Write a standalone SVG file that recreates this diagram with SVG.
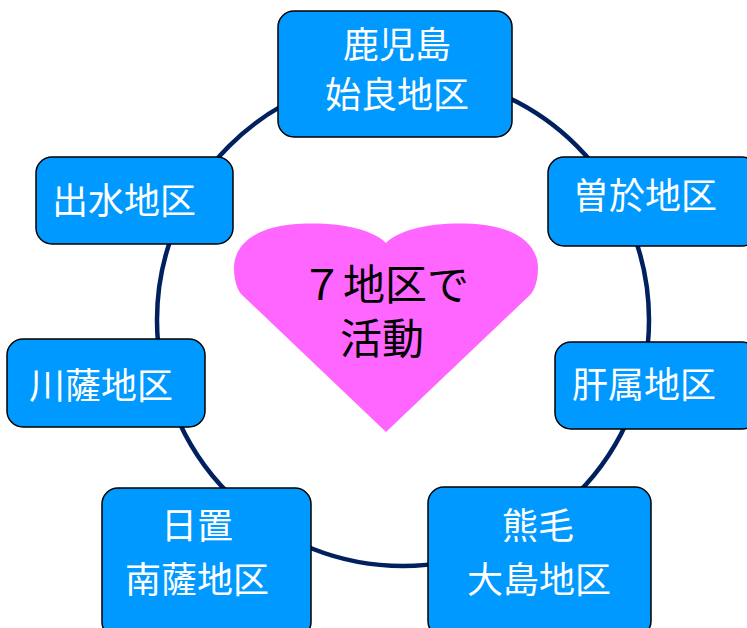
<svg xmlns="http://www.w3.org/2000/svg" width="747" height="628" viewBox="0 0 747 628">
<style>
.box{fill:#0099FF;stroke:#000;stroke-width:1.5}
.lbl{fill:#fff;font-family:"Noto Sans CJK JP","Noto Sans CJK SC",sans-serif;font-size:36px;text-anchor:middle}
.ctr{fill:#000;font-family:"Noto Sans CJK JP","Noto Sans CJK SC",sans-serif;font-size:42px;text-anchor:middle}
</style>
<rect width="747" height="628" fill="#fff"/>
<g id="connectors">
<circle cx="403" cy="320" r="246" fill="none" stroke="#002060" stroke-width="4.5"/>
</g>
<g id="heart">
<path d="M386,243 C372,228 330,220 287,225 C250,230 234,248 234,268 C234,282 238,290 241,294 L386,432 L531,294 C534,290 538,282 538,268 C538,248 522,230 485,225 C442,220 400,228 386,243 Z" fill="#FF66FF"/>
<text class="ctr" x="385" y="300">７地区で</text>
<text class="ctr" x="382" y="354">活動</text>
</g>
<g id="kagoshima">
<rect class="box" x="278" y="11" width="234" height="126" rx="16"/>
<text class="lbl" x="397" y="58">鹿児島</text>
<text class="lbl" x="397" y="108">始良地区</text>
</g>
<g id="soo">
<rect class="box" x="548" y="157" width="210" height="89" rx="16"/>
<text class="lbl" x="645" y="209">曽於地区</text>
</g>
<g id="kimotsuki">
<rect class="box" x="555" y="342" width="203" height="87" rx="16"/>
<text class="lbl" x="644" y="398">肝属地区</text>
</g>
<g id="kumage">
<rect class="box" x="428" y="487" width="223" height="150" rx="16"/>
<text class="lbl" x="538" y="539">熊毛</text>
<text class="lbl" x="539" y="593">大島地区</text>
</g>
<g id="hioki">
<rect class="box" x="102" y="488" width="209" height="150" rx="16"/>
<text class="lbl" x="197" y="539">日置</text>
<text class="lbl" x="197" y="593">南薩地区</text>
</g>
<g id="satsuma">
<rect class="box" x="7" y="339" width="198" height="88" rx="16"/>
<text class="lbl" x="101" y="399">川薩地区</text>
</g>
<g id="izumi">
<rect class="box" x="36" y="157" width="197" height="87" rx="16"/>
<text class="lbl" x="124" y="214">出水地区</text>
</g>
</svg>
